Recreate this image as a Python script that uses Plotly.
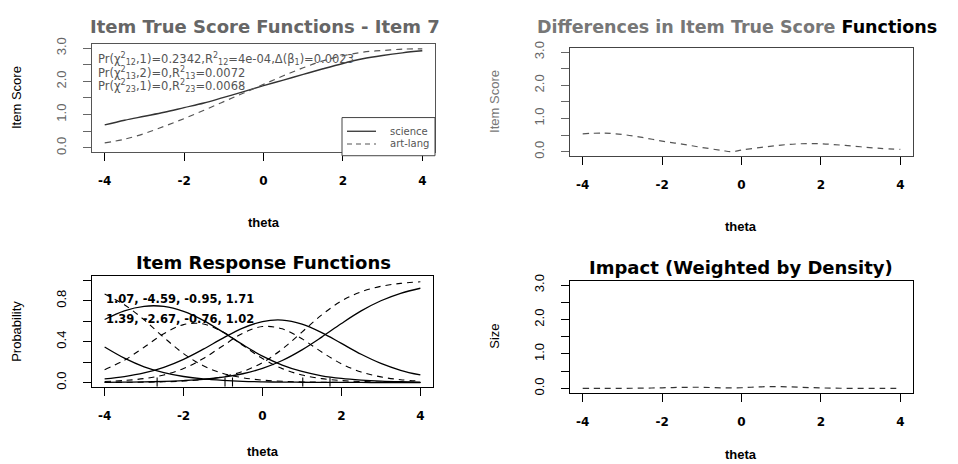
import plotly.graph_objects as go

# ---- data -----------------------------------------------------------------
theta = [-4, -3.5, -3, -2.5, -2, -1.5, -1, -0.5, 0, 0.5, 1, 1.5, 2, 2.5, 3, 3.5, 4]

# expected item score per group
science_score = [0.69, 0.83, 0.95, 1.07, 1.21, 1.35, 1.52, 1.69, 1.87, 2.04, 2.21, 2.38, 2.54, 2.68, 2.78, 2.86, 2.92]
artlang_score = [0.15, 0.26, 0.43, 0.65, 0.88, 1.13, 1.39, 1.65, 1.91, 2.17, 2.41, 2.62, 2.77, 2.88, 2.93, 2.97, 2.98]

# absolute difference between the two true score functions
diff_theta = [-4, -3.5, -3, -2.5, -2, -1.5, -1, -0.5, -0.25, 0, 0.5, 1, 1.5, 2, 2.5, 3, 3.5, 4]
diff_score = [0.54, 0.56, 0.52, 0.43, 0.32, 0.23, 0.13, 0.04, 0.00, 0.05, 0.13, 0.20, 0.24, 0.24, 0.20, 0.15, 0.10, 0.07]

# difference weighted by the focal group density
impact = [0.000, 0.000, 0.002, 0.007, 0.017, 0.029, 0.032, 0.014, 0.019, 0.046, 0.049, 0.031, 0.013, 0.004, 0.001, 0.000, 0.000]

# category response probabilities (categories 0..3)
science_prob = [
    [0.347, 0.238, 0.154, 0.097, 0.059, 0.035, 0.021, 0.012, 0.007, 0.004, 0.003, 0.002, 0.001, 0.001, 0.000, 0.000, 0.000],
    [0.616, 0.701, 0.745, 0.744, 0.696, 0.608, 0.492, 0.370, 0.258, 0.171, 0.108, 0.066, 0.040, 0.024, 0.014, 0.008, 0.004],
    [0.035, 0.058, 0.094, 0.149, 0.227, 0.326, 0.434, 0.532, 0.596, 0.610, 0.571, 0.488, 0.382, 0.276, 0.187, 0.120, 0.074],
    [0.002, 0.004, 0.006, 0.011, 0.019, 0.031, 0.052, 0.086, 0.138, 0.215, 0.319, 0.444, 0.577, 0.700, 0.799, 0.872, 0.921],
]
artlang_prob = [
    [0.864, 0.760, 0.613, 0.441, 0.283, 0.164, 0.089, 0.047, 0.024, 0.012, 0.006, 0.003, 0.002, 0.001, 0.000, 0.000, 0.000],
    [0.125, 0.218, 0.345, 0.477, 0.566, 0.572, 0.493, 0.364, 0.234, 0.136, 0.074, 0.038, 0.020, 0.010, 0.005, 0.003, 0.001],
    [0.010, 0.020, 0.039, 0.074, 0.137, 0.234, 0.360, 0.481, 0.547, 0.525, 0.427, 0.298, 0.183, 0.103, 0.055, 0.028, 0.014],
    [0.001, 0.002, 0.004, 0.007, 0.015, 0.029, 0.057, 0.108, 0.195, 0.327, 0.493, 0.661, 0.796, 0.887, 0.940, 0.969, 0.984],
]

# item parameters (slope, thresholds) per group
science_par = [1.07, -4.59, -0.95, 1.71]
artlang_par = [1.39, -2.67, -0.76, 1.02]

group_names = ["science", "art-lang"]

stat_lines = [
    "Pr(\u03c7<sup>2</sup><sub>12</sub>,1)=0.2342,R<sup>2</sup><sub>12</sub>=4e-04,\u0394(\u03b2<sub>1</sub>)=0.0023",
    "Pr(\u03c7<sup>2</sup><sub>13</sub>,2)=0,R<sup>2</sup><sub>13</sub>=0.0072",
    "Pr(\u03c7<sup>2</sup><sub>23</sub>,1)=0,R<sup>2</sup><sub>23</sub>=0.0068",
]

score_ticks = [0, 1, 2, 3]
score_labels = ["0.0", "1.0", "2.0", "3.0"]
score_minor_step = 0.5
prob_ticks = [0, 0.4, 0.8]
prob_labels = ["0.0", "0.4", "0.8"]
prob_minor_step = 0.2
x_ticks = [-4, -2, 0, 2, 4]

# ---- figure ---------------------------------------------------------------
W, H = 958, 464
FONT = "Liberation Sans, Arial, sans-serif"
WIDE = "DejaVu Sans, Verdana, sans-serif"
DASH = "6px,5px"

fig = go.Figure()

# panel 1: item true score functions
fig.add_trace(go.Scatter(x=theta, y=science_score, mode="lines", name=group_names[0],
                         line=dict(color="#333333", width=1.4, shape="spline"),
                         xaxis="x", yaxis="y", showlegend=False))
fig.add_trace(go.Scatter(x=theta, y=artlang_score, mode="lines", name=group_names[1],
                         line=dict(color="#555555", width=1.2, dash=DASH, shape="spline"),
                         xaxis="x", yaxis="y", showlegend=False))

# panel 2: differences
fig.add_trace(go.Scatter(x=diff_theta, y=diff_score, mode="lines",
                         line=dict(color="#555555", width=1.2, dash=DASH, shape="spline"),
                         xaxis="x2", yaxis="y2", showlegend=False))

# panel 3: item response functions
for probs in science_prob:
    fig.add_trace(go.Scatter(x=theta, y=probs, mode="lines",
                             line=dict(color="black", width=1.3, shape="spline"),
                             xaxis="x3", yaxis="y3", showlegend=False))
for probs in artlang_prob:
    fig.add_trace(go.Scatter(x=theta, y=probs, mode="lines",
                             line=dict(color="black", width=1.1, dash=DASH, shape="spline"),
                             xaxis="x3", yaxis="y3", showlegend=False))

# threshold markers along the bottom of the response panel
for pars in (science_par, artlang_par):
    for b in pars[1:]:
        if -4.3 <= b <= 4.3:
            fig.add_trace(go.Scatter(x=[b, b], y=[-0.04, 0.05], mode="lines",
                                     line=dict(color="black", width=1.1),
                                     xaxis="x3", yaxis="y3", showlegend=False))

# panel 4: impact
fig.add_trace(go.Scatter(x=theta, y=impact, mode="lines",
                         line=dict(color="#333333", width=1.2, dash=DASH, shape="spline"),
                         xaxis="x4", yaxis="y4", showlegend=False))


def px_x(p):
    return p / W


def px_y(p):
    return 1 - p / H


score_axis = ([-0.12, 3.12], score_ticks, score_labels, score_minor_step)
prob_axis = ([-0.04, 1.04], prob_ticks, prob_labels, prob_minor_step)

panels = {
    # name: (left, right, top, bottom) in pixels, y axis spec, frame colour
    "1": (92, 435, 38, 148, score_axis, "#555555"),
    "2": (570, 913, 42, 152, score_axis, "#444444"),
    "3": (92, 433, 275, 388, prob_axis, "black"),
    "4": (570, 913, 280, 394, score_axis, "black"),
}

layout_axes = {}
for key, (l, r, t, b, (yr, yt, yl, ystep), col) in panels.items():
    xname = "xaxis" if key == "1" else f"xaxis{key}"
    yname = "yaxis" if key == "1" else f"yaxis{key}"
    ya = "y" if key == "1" else f"y{key}"
    xa = "x" if key == "1" else f"x{key}"
    tick_col = "#666666" if key in ("1", "2") else "black"
    layout_axes[xname] = dict(
        domain=[px_x(l), px_x(r)], range=[-4.32, 4.32], anchor=ya,
        tickvals=x_ticks, ticktext=[str(v) for v in x_ticks],
        ticks="outside", ticklen=8, tickwidth=1.2, tickcolor="black",
        ticklabelstandoff=10,
        showline=True, linecolor=col, linewidth=1.4, mirror=True,
        showgrid=False, zeroline=False,
        tickfont=dict(family=WIDE, size=12, color="black", weight="bold"),
    )
    layout_axes[yname] = dict(
        domain=[px_y(b), px_y(t)], range=yr, anchor=xa,
        tickvals=yt, ticktext=yl, tickangle=-90,
        ticks="outside", ticklen=8, tickwidth=1.0, tickcolor=tick_col,
        minor=dict(tick0=0, dtick=ystep, ticks="outside", ticklen=8, tickwidth=1.0,
                   tickcolor=tick_col, showgrid=False),
        ticklabelstandoff=12,
        showline=True, linecolor=col, linewidth=1.4, mirror=True,
        showgrid=False, zeroline=False,
        tickfont=dict(family=FONT, size=13, color=tick_col),
    )

annotations = []
shapes = []


def note(text, x, y, size, color="black", bold=False, angle=0, xanchor="center", family=FONT):
    annotations.append(dict(
        text=f"<b>{text}</b>" if bold else text, x=px_x(x), y=px_y(y),
        xref="paper", yref="paper", showarrow=False, textangle=angle,
        xanchor=xanchor, yanchor="middle",
        font=dict(family=family, size=size, color=color)))


# panel titles
note("Item True Score Functions - Item 7", 265, 20, 18, color="#666666", bold=True, family=WIDE)
note("<span style='color:#777777'>Differences in Item True Score</span> Functions", 737, 20, 17.5,
     bold=True, family=WIDE)
note("Item Response Functions", 263, 261, 18, bold=True, family=WIDE)
note("Impact (Weighted by Density)", 741, 266, 18, bold=True, family=WIDE)

# axis titles
for cx, cy in ((264, 220), (741, 224), (263, 454), (741, 457)):
    note("theta", cx, cy, 13, bold=True)
note("Item Score", 17, 93, 13, angle=-90)
note("Item Score", 495, 97, 13, color="#777777", angle=-90)
note("Probability", 17, 332, 13, angle=-90)
note("Size", 495, 337, 13, angle=-90)

# model statistics in panel 1
for i, line in enumerate(stat_lines):
    annotations.append(dict(text=line, x=-4.23, y=2.66 - 0.40 * i, xref="x", yref="y",
                            showarrow=False, xanchor="left", yanchor="middle",
                            font=dict(family=WIDE, size=11.5, color="#555555")))

# item parameters in panel 3
for i, pars in enumerate((science_par, artlang_par)):
    txt = ", ".join(f"{v:.2f}" for v in pars)
    annotations.append(dict(text=f"<b>{txt}</b>", x=-4.02, y=0.82 - 0.20 * i, xref="x3", yref="y3",
                            showarrow=False, xanchor="left", yanchor="middle",
                            font=dict(family=WIDE, size=11.5, color="black")))

# legend box in panel 1
shapes.append(dict(type="rect", xref="paper", yref="paper",
                   x0=px_x(342), x1=px_x(435), y0=px_y(152), y1=px_y(113),
                   line=dict(color="#444444", width=1), fillcolor="white", layer="above"))
legend_styles = [dict(color="#333333", width=1.3), dict(color="#555555", width=1.2, dash="5px,4px")]
for i, (name, style) in enumerate(zip(group_names, legend_styles)):
    yy = 127 + 13 * i
    shapes.append(dict(type="line", xref="paper", yref="paper",
                       x0=px_x(347), x1=px_x(376), y0=px_y(yy), y1=px_y(yy),
                       line=style, layer="above"))
    note(name, 388, yy, 10, color="#555555", xanchor="left", family=WIDE)

fig.update_layout(
    width=W, height=H, margin=dict(l=0, r=0, t=0, b=0),
    paper_bgcolor="white", plot_bgcolor="white",
    font=dict(family=FONT, color="black"),
    annotations=annotations, shapes=shapes,
    showlegend=False,
    **layout_axes,
)

fig.write_html("out.html")
